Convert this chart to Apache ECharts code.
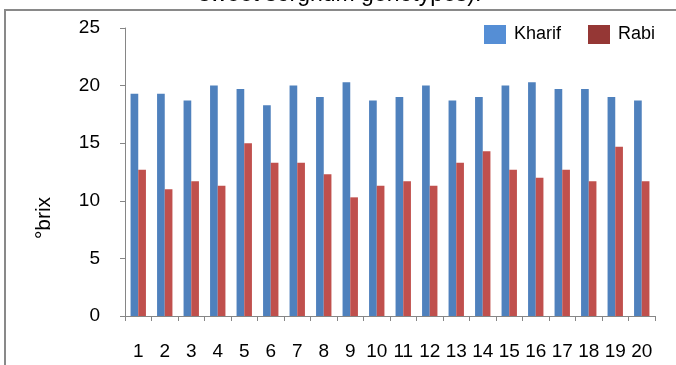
<!DOCTYPE html>
<html>
<head>
<meta charset="utf-8">
<script src="https://cdn.jsdelivr.net/npm/echarts@6/dist/echarts.min.js"></script>
<style>
  html, body { margin: 0; padding: 0; background: #fff; }
  #chart { width: 676px; height: 365px; }
</style>
</head>
<body>
<div id="chart"></div>
<script>
// Brix readings of 20 sweet sorghum genotypes in two seasons
const genotypes = ['1','2','3','4','5','6','7','8','9','10','11','12','13','14','15','16','17','18','19','20'];
const kharif = [19.3, 19.3, 18.7, 20.0, 19.7, 18.3, 20.0, 19.0, 20.3, 18.7, 19.0, 20.0, 18.7, 19.0, 20.0, 20.3, 19.7, 19.7, 19.0, 18.7];
const rabi   = [12.7, 11.0, 11.7, 11.3, 15.0, 13.3, 13.3, 12.3, 10.3, 11.3, 11.7, 11.3, 13.3, 14.3, 12.7, 12.0, 12.7, 11.7, 14.7, 11.7];
const yTicks = { min: 0, max: 25, interval: 5 };

const FONT = '"Liberation Sans", Arial, sans-serif';
const AXIS_GREY = '#868686';

const chart = echarts.init(document.getElementById('chart'), null, { renderer: 'canvas' });

chart.setOption({
  animation: false,
  backgroundColor: '#ffffff',
  textStyle: { fontFamily: FONT },
  grid: { left: 125, right: 21, top: 28, bottom: 49, containLabel: false },
  legend: {
    left: 484,
    top: 25,
    padding: 0,
    itemWidth: 22,
    itemHeight: 19,
    itemGap: 27,
    icon: 'rect',
    textStyle: { fontFamily: FONT, fontSize: 18, color: '#000', padding: [0, 0, 0, 3] },
    data: [
      { name: 'Kharif', itemStyle: { color: '#558ED5' } },
      { name: 'Rabi', itemStyle: { color: '#953735' } }
    ]
  },
  xAxis: {
    type: 'category',
    data: genotypes,
    boundaryGap: true,
    axisLine: { lineStyle: { color: AXIS_GREY, width: 1 } },
    axisTick: { show: true, inside: false, length: 5, lineStyle: { color: AXIS_GREY } },
    axisLabel: { interval: 0, margin: 26, fontSize: 19, color: '#000', fontFamily: FONT },
    splitLine: { show: false }
  },
  yAxis: {
    type: 'value',
    min: yTicks.min,
    max: yTicks.max,
    interval: yTicks.interval,
    axisLine: { show: true, lineStyle: { color: AXIS_GREY, width: 1 } },
    axisTick: { show: true, inside: false, length: 5, lineStyle: { color: AXIS_GREY } },
    axisLabel: { margin: 25, fontSize: 19, color: '#000', fontFamily: FONT },
    splitLine: { show: false }
  },
  series: [
    {
      name: 'Kharif',
      type: 'bar',
      data: kharif,
      barGap: '0%',
      barCategoryGap: '42%',
      itemStyle: { color: '#4F81BD' }
    },
    {
      name: 'Rabi',
      type: 'bar',
      data: rabi,
      barGap: '0%',
      barCategoryGap: '42%',
      itemStyle: { color: '#C0504D' }
    }
  ],
  graphic: [
    {
      type: 'rect',
      z: -1,
      shape: { x: 5, y: 10, width: 720, height: 420 },
      style: { fill: 'none', stroke: '#898989', lineWidth: 2 }
    },
    {
      type: 'text',
      x: 340,
      y: -5,
      style: {
        text: 'sweet sorghum genotypes).',
        font: '23px ' + FONT,
        fill: '#000',
        textAlign: 'center',
        textVerticalAlign: 'middle'
      }
    },
    {
      type: 'text',
      x: 44.5,
      y: 218,
      rotation: Math.PI / 2,
      style: {
        text: '°brix',
        font: '21px ' + FONT,
        fill: '#000',
        textAlign: 'center',
        textVerticalAlign: 'middle'
      }
    }
  ]
});
</script>
</body>
</html>
